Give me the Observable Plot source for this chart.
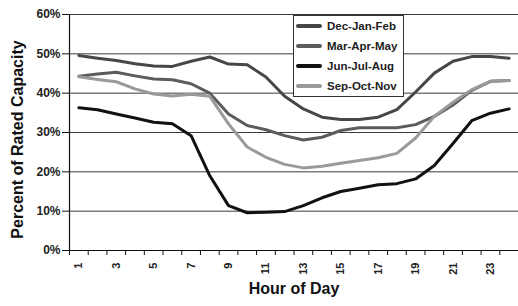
<!DOCTYPE html>
<html>
<head>
<meta charset="utf-8">
<script src="https://cdn.jsdelivr.net/npm/d3@7"></script>
<script src="https://cdn.jsdelivr.net/npm/@observablehq/plot@0.6"></script>
<style>
  html, body { margin: 0; padding: 0; background: #fff; }
  #wrap { position: relative; width: 518px; height: 306px; font-family: "Liberation Sans", Arial, sans-serif; }
  #legend { position: absolute; left: 293px; top: 15px; width: 109px; height: 80px; border: 1px solid #333; background: #fff; }
  .row { position: absolute; left: 2px; height: 20px; display: flex; align-items: center; }
  .sw { width: 26px; height: 4px; border-radius: 2px; margin-right: 5px; }
  .lb { font-size: 11.5px; font-weight: bold; color: #222; white-space: nowrap; }
</style>
</head>
<body>
<div id="wrap"></div>
<script>
const hours = d3.range(1, 25);
const seriesNames = ["Dec-Jan-Feb", "Mar-Apr-May", "Jun-Jul-Aug", "Sep-Oct-Nov"];
const seriesColors = ["#474747", "#5c5c5c", "#111111", "#9a9a9a"];
const decJanFeb = [49.6,48.9,48.3,47.5,46.9,46.8,48.1,49.2,47.4,47.2,44.1,39.2,36.0,33.9,33.3,33.3,33.9,35.8,40.3,45.1,48.1,49.3,49.3,48.9];
const marAprMay = [44.3,44.9,45.3,44.4,43.6,43.4,42.4,40.0,34.7,31.8,30.7,29.2,28.1,28.8,30.5,31.2,31.2,31.2,32.0,34.1,37.0,40.7,43.0,43.2];
const junJulAug = [36.3,35.8,34.7,33.7,32.6,32.2,29.2,19.0,11.4,9.6,9.7,9.9,11.4,13.4,15.0,15.8,16.7,17.0,18.2,21.6,27.2,33.0,34.9,36.0];
const sepOctNov = [44.2,43.5,42.9,41.1,39.8,39.3,39.7,39.2,32.2,26.3,23.7,21.9,21.0,21.4,22.2,22.9,23.6,24.7,28.6,34.1,37.7,40.9,43.0,43.2];
const yTicks = [0, 10, 20, 30, 40, 50, 60];
const xLabelTicks = [1, 3, 5, 7, 9, 11, 13, 15, 17, 19, 21, 23];
const xBoundaryTicks = d3.range(0.5, 25, 1);

const allSeries = [decJanFeb, marAprMay, junJulAug, sepOctNov];
const data = [];
allSeries.forEach((vals, i) => vals.forEach((v, j) => data.push({series: seriesNames[i], hour: hours[j], value: v})));

const chart = Plot.plot({
  width: 518,
  height: 306,
  marginLeft: 69,
  marginRight: 0,
  marginTop: 14,
  marginBottom: 56,
  style: {fontFamily: "'Liberation Sans', Arial, sans-serif", fontSize: "11.5px", fontWeight: "bold", color: "#222", background: "#fff"},
  x: {type: "linear", domain: [0.5, 24.5], axis: null},
  y: {domain: [0, 60], axis: null},
  color: {domain: seriesNames, range: seriesColors},
  marks: [
    Plot.ruleY(yTicks.filter(d => d > 0), {stroke: "#3a3a3a", strokeWidth: 1}),
    Plot.line(data, {x: "hour", y: "value", z: "series", stroke: "series", strokeWidth: 3, strokeLinejoin: "round", strokeLinecap: "round"}),
    Plot.ruleY([0], {stroke: "#111", strokeWidth: 1.2}),
    Plot.ruleX([0.5], {stroke: "#111", strokeWidth: 1.2}),
    Plot.axisY({ticks: yTicks, tickFormat: d => d + "%", tickSize: 7, tickPadding: 2, label: null, stroke: "#111", fontSize: 12}),
    Plot.axisX({ticks: xBoundaryTicks, tickFormat: () => "", tickSize: 5, label: null, stroke: "#111"}),
    Plot.axisX({ticks: xLabelTicks, tickSize: 0, tickPadding: 12, tickRotate: -90, label: null, fontSize: 11}),
    Plot.text(["Percent of Rated Capacity"], {frameAnchor: "left", textAnchor: "middle", rotate: -90, dx: -52, dy: 7, fontSize: 16, fontWeight: "bold", fill: "#111"}),
    Plot.text(["Hour of Day"], {frameAnchor: "bottom", dy: 43, fontSize: 16, fontWeight: "bold", fill: "#111"})
  ]
});

const wrap = document.getElementById("wrap");
wrap.appendChild(chart);

const legend = document.createElement("div");
legend.id = "legend";
seriesNames.forEach((name, i) => {
  const row = document.createElement("div");
  row.className = "row";
  row.style.top = (i * 20) + "px";
  const sw = document.createElement("span");
  sw.className = "sw";
  sw.style.background = seriesColors[i];
  const lb = document.createElement("span");
  lb.className = "lb";
  lb.textContent = name;
  row.appendChild(sw);
  row.appendChild(lb);
  legend.appendChild(row);
});
wrap.appendChild(legend);
</script>
</body>
</html>
